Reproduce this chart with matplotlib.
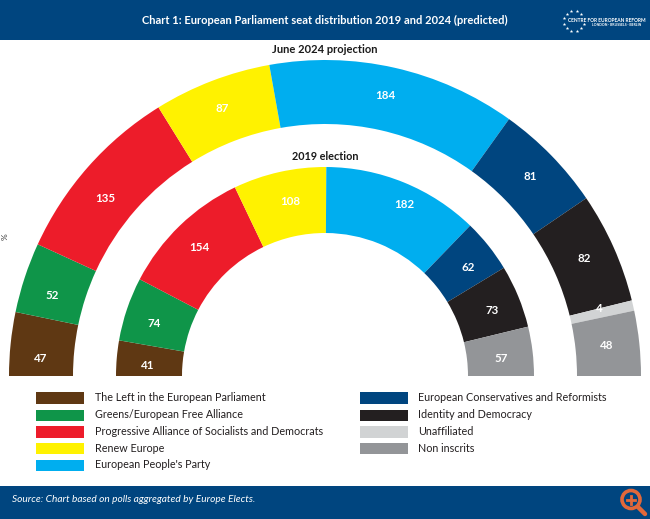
import matplotlib
matplotlib.use("Agg")
import matplotlib.pyplot as plt
from matplotlib.patches import Wedge, Rectangle, Circle
import numpy as np

parties = ["The Left in the European Parliament", "Greens/European Free Alliance",
           "Progressive Alliance of Socialists and Democrats", "Renew Europe",
           "European People's Party", "European Conservatives and Reformists",
           "Identity and Democracy", "Unaffiliated", "Non inscrits"]
colours = ["#5f3813", "#0f9549", "#ed1c2a", "#fff200", "#00aeef",
           "#00457f", "#231f20", "#d1d3d4", "#939598"]
seats_2024 = [47, 52, 135, 87, 184, 81, 82, 4, 48]
seats_2019 = [41, 74, 154, 108, 182, 62, 73, 0, 57]

# label shifts in pixels from the middle of each wedge (right, down)
nudge_2024 = [(-2, 11), (-3, 8), (-7, 10), (-1, -2), (-2, -3), (2, -1), (0, -2), (-3, -4), (-1, -1)]
nudge_2019 = [(-2, 5), (-4, 4), (-3, -2), (4, -3), (13, -9), (6, 1), (4, 2), (0, 0), (1, 3)]

NAVY = "#00457f"
W, H = 650, 519
CX, BASE = 325, 376
MIN_SWEEP = 1.9  # the sliver for 4 seats is drawn wider than its share

plt.rcParams["font.family"] = ["Lato", "DejaVu Sans"]

fig = plt.figure(figsize=(6.5, 5.19), dpi=100)
ax = fig.add_axes([0, 0, 1, 1])
ax.set_xlim(0, W)
ax.set_ylim(0, H)
ax.axis("off")


# y given from the top of the picture
def yy(py):
    return H - py


def ring(values, nudges, r_out, r_in):
    vals = np.array(values, dtype=float)
    sweeps = 180.0 * vals / vals.sum()
    small = (sweeps > 0) & (sweeps < MIN_SWEEP)
    rest = 180.0 - MIN_SWEEP * small.sum()
    sweeps = np.where(small, MIN_SWEEP, rest * vals / vals[~small].sum())
    ang = 180.0
    for val, step, col, (dx, dy) in zip(values, sweeps, colours, nudges):
        if val == 0:
            continue
        ax.add_patch(Wedge((CX, yy(BASE)), r_out, ang - step, ang, width=r_out - r_in,
                           facecolor=col, edgecolor="none"))
        mid = np.radians(ang - step / 2)
        r_mid = (r_out + r_in) / 2
        ax.text(CX + r_mid * np.cos(mid) + dx, yy(BASE) + r_mid * np.sin(mid) - dy, str(val),
                color="white", fontsize=8.3, fontweight="bold", ha="center", va="center")
        ang -= step


ring(seats_2024, nudge_2024, 316, 252)
ring(seats_2019, nudge_2019, 209, 143)

ax.text(325, yy(49.5), "June 2024 projection", fontsize=8.0, fontweight="bold",
        color="#1a1a1a", ha="center", va="center")
ax.text(325, yy(156), "2019 election", fontsize=7.8, fontweight="bold",
        color="#1a1a1a", ha="center", va="center")
ax.text(5.5, yy(237), "%", fontsize=6, rotation=90, color="#333333", ha="center", va="center")

# header and footer bands
ax.add_patch(Rectangle((0, yy(40)), W, 40, facecolor=NAVY, edgecolor="none"))
ax.add_patch(Rectangle((0, 0), W, H - 486, facecolor=NAVY, edgecolor="none"))
ax.text(325, yy(20), "Chart 1: European Parliament seat distribution 2019 and 2024 (predicted)",
        color="white", fontsize=8.0, fontweight="bold", ha="center", va="center")
ax.text(12, yy(499), "Source: Chart based on polls aggregated by Europe Elects.",
        color="white", fontsize=7.3, style="italic", ha="left", va="center")

# logo
star_ang = np.radians(np.arange(15, 360, 30))
ax.scatter(574 + 10.5 * np.cos(star_ang), yy(21) + 10.5 * np.sin(star_ang),
           marker="*", s=7, color="white", linewidths=0, zorder=3)
ax.text(568, yy(20), "CENTRE FOR EUROPEAN REFORM", color="white", fontsize=3.5,
        fontweight="bold", ha="left", va="center", zorder=4,
        bbox=dict(facecolor=NAVY, edgecolor="none", pad=0.4))
ax.text(641, yy(25.5), "LONDON · BRUSSELS · BERLIN", color="white", fontsize=2.5,
        fontweight="bold", ha="right", va="center", zorder=4)

# magnifier icon
ax.add_patch(Circle((631, yy(499.5)), 9, facecolor="none", edgecolor="#e2683a", lw=2.6, zorder=4))
ax.plot([638, 645], [yy(507), yy(514)], color="#e2683a", lw=3.2, zorder=4, solid_capstyle="round")
ax.plot([627, 635], [yy(499.5), yy(499.5)], color="#e2683a", lw=2.0, zorder=4)
ax.plot([631, 631], [yy(495.5), yy(503.5)], color="#e2683a", lw=2.0, zorder=4)

# legend
rows_left = [398, 415.5, 432, 448.5, 465.5]
rows_right = [398, 415.5, 432, 448.5]
for name, col, row in zip(parties[:5], colours[:5], rows_left):
    ax.add_patch(Rectangle((36, yy(row + 5.75)), 48, 11.5, facecolor=col, edgecolor="none"))
    ax.text(95, yy(row - 0.5), name, fontsize=7.75, color="#231f20", ha="left", va="center")
for name, col, row in zip(parties[5:], colours[5:], rows_right):
    ax.add_patch(Rectangle((360, yy(row + 5.75)), 48, 11.5, facecolor=col, edgecolor="none"))
    ax.text(418, yy(row - 0.5), name, fontsize=7.75, color="#231f20", ha="left", va="center")

fig.savefig("out.png", dpi=100)
